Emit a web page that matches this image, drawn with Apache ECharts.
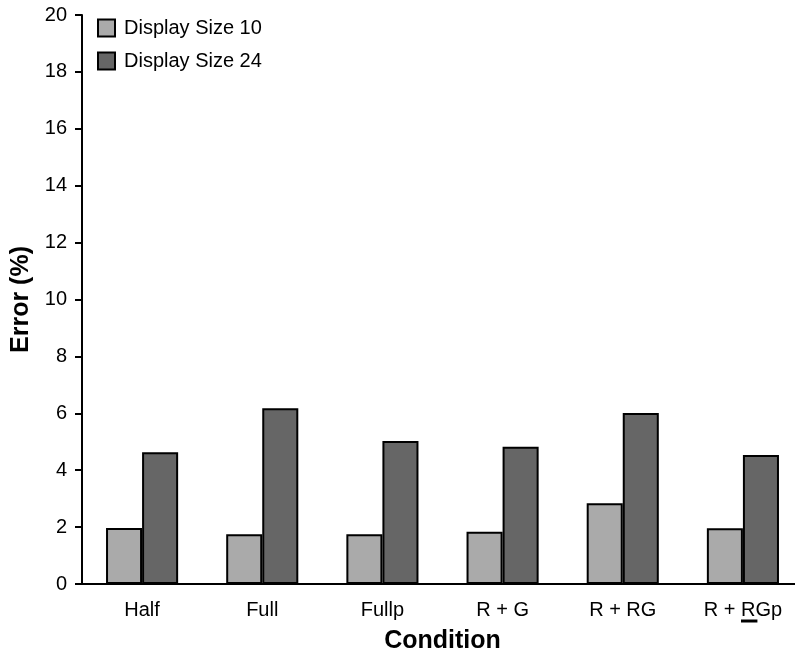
<!DOCTYPE html>
<html>
<head>
<meta charset="utf-8">
<script src="https://cdn.jsdelivr.net/npm/echarts@6/dist/echarts.min.js"></script>
<style>
  html, body { margin: 0; padding: 0; background: #fff; }
  #chart { width: 795px; height: 651px; }
</style>
</head>
<body>
<div id="chart"></div>
<script>
// data
var conditions = ['Half', 'Full', 'Fullp', 'R + G', 'R + RG', 'R + RGp'];
var size10 = [1.97, 1.75, 1.75, 1.84, 2.84, 1.96];
var size24 = [4.63, 6.18, 5.03, 4.82, 6.01, 4.53];
var seriesNames = ['Display Size 10', 'Display Size 24'];

var font = 'Arial, "Liberation Sans", Helvetica, sans-serif';

var chart = echarts.init(document.getElementById('chart'));

var option = {
    animation: false,
    textStyle: { fontFamily: font, color: '#000' },
    legend: {
        orient: 'vertical',
        left: 97,
        top: 18,
        padding: 0,
        itemWidth: 17,
        itemHeight: 17,
        itemGap: 13,
        icon: 'rect',
        textStyle: { fontSize: 20, color: '#000', fontFamily: font, padding: [0, 0, 0, 4] },
        data: seriesNames
    },
    grid: { left: 82, top: 15, bottom: 67, right: -8, outerBoundsMode: 'none', containLabel: false },
    xAxis: {
        type: 'category',
        data: conditions,
        name: 'Condition',
        nameLocation: 'middle',
        nameGap: 45,
        nameTextStyle: { fontSize: 25, fontWeight: 'bold', color: '#000', fontFamily: font },
        axisLine: { lineStyle: { color: '#000', width: 2 } },
        axisTick: { length: 8, lineStyle: { color: '#000', width: 2 } },
        axisLabel: { fontSize: 20, color: '#000', margin: 16, fontFamily: font }
    },
    yAxis: {
        type: 'value',
        min: 0,
        max: 20,
        interval: 2,
        name: 'Error (%)',
        nameLocation: 'middle',
        nameGap: 48,
        nameRotate: 90,
        nameTextStyle: { fontSize: 25, fontWeight: 'bold', color: '#000', fontFamily: font },
        axisLine: { show: true, lineStyle: { color: '#000', width: 2 } },
        axisTick: { show: true, length: 7, lineStyle: { color: '#000', width: 2 } },
        axisLabel: { fontSize: 20, color: '#000', margin: 15, fontFamily: font },
        splitLine: { show: false }
    },
    series: [
        {
            name: seriesNames[0],
            type: 'bar',
            data: size10,
            barGap: 0,
            barCategoryGap: '40%',
            itemStyle: { color: '#aaaaaa', borderColor: '#000', borderWidth: 2 }
        },
        {
            name: seriesNames[1],
            type: 'bar',
            data: size24,
            barGap: 0,
            barCategoryGap: '40%',
            itemStyle: { color: '#666666', borderColor: '#000', borderWidth: 2 }
        }
    ]
};

chart.setOption(option);

// underline under the second "R" of the last category label
var last = conditions[conditions.length - 1];
var cx = chart.convertToPixel({ xAxisIndex: 0 }, last);
var ctx = document.createElement('canvas').getContext('2d');
ctx.font = '20px ' + font;
var full = ctx.measureText(last).width;
var pre = ctx.measureText('R + ').width;
var rw = ctx.measureText('R').width;
var x0 = cx - full / 2 + pre;
chart.setOption({
    graphic: [{
        type: 'line',
        shape: { x1: x0, y1: 621, x2: x0 + rw + 2, y2: 621 },
        style: { stroke: '#000', lineWidth: 3 }
    }]
});
</script>
</body>
</html>
